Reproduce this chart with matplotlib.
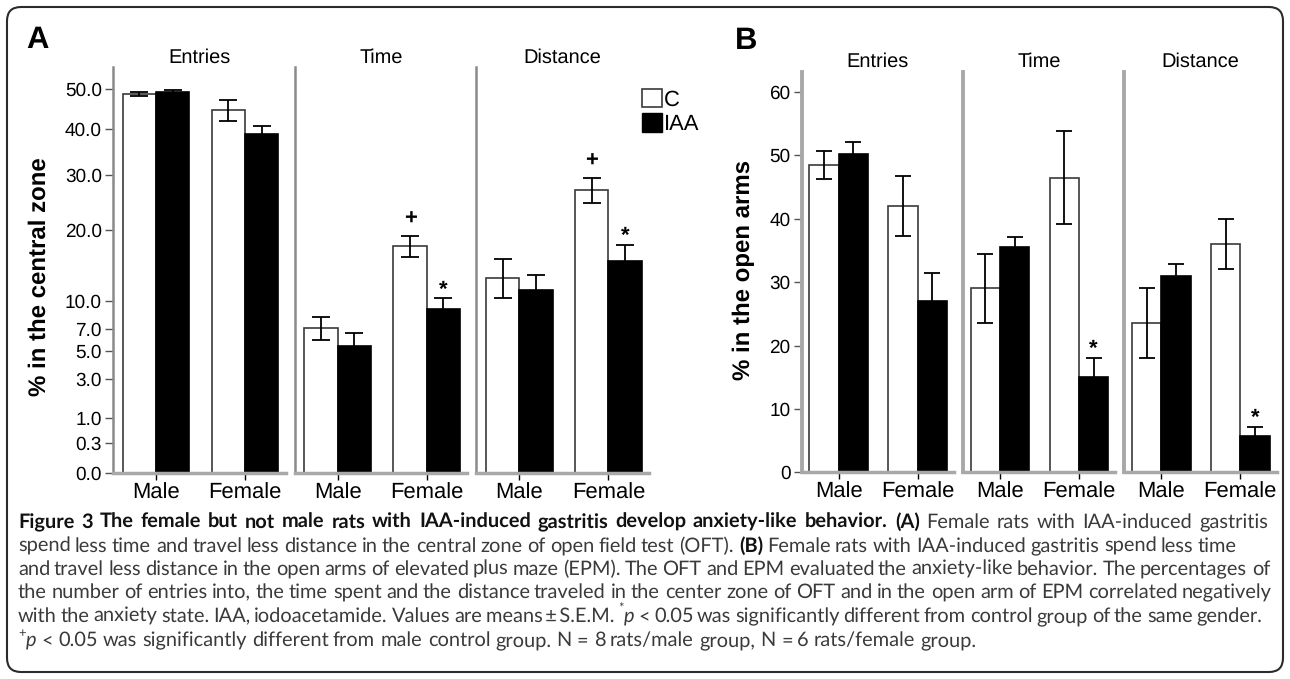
import matplotlib
matplotlib.use('Agg')
import matplotlib.pyplot as plt
from matplotlib.patches import FancyBboxPatch, Patch
from matplotlib.transforms import IdentityTransform
import numpy as np

plt.rcParams['font.family'] = ['Liberation Sans', 'DejaVu Sans']
plt.rcParams['text.hinting'] = 'no_hinting'
plt.rcParams['text.hinting_factor'] = 1

W, H = 1290, 679

measures = ['Entries', 'Time', 'Distance']
groups = ['Male', 'Female']

# A: % in the central zone (open field), square-root axis
a_ctrl = [[48.6, 44.6], [7.1, 17.4], [12.9, 27.1]]
a_ctrl_err = [[0.4, 2.6], [1.1, 1.6], [2.6, 2.4]]
a_iaa = [[49.1, 38.9], [5.45, 9.1], [11.3, 15.2]]
a_iaa_err = [[0.5, 1.8], [1.2, 1.2], [1.95, 2.4]]
a_ticks = [0.0, 0.3, 1.0, 3.0, 5.0, 7.0, 10.0, 20.0, 30.0, 40.0, 50.0]
a_marks = [[], [('C', 1, '+'), ('IAA', 1, '*')], [('C', 1, '+'), ('IAA', 1, '*')]]

# B: % in the open arms (plus maze)
b_ctrl = [[48.5, 42.0], [29.0, 46.5], [23.5, 36.0]]
b_ctrl_err = [[2.2, 4.7], [5.4, 7.4], [5.5, 4.0]]
b_iaa = [[50.2, 27.1], [35.5, 15.1], [31.0, 5.8]]
b_iaa_err = [[1.9, 4.4], [1.7, 2.9], [1.85, 1.35]]
b_ticks = [0, 10, 20, 30, 40, 50, 60]
b_marks = [[], [('IAA', 1, '*')], [('IAA', 1, '*')]]

fig = plt.figure(figsize=(12.9, 6.79), dpi=100)


def add_ax(x0, x1, y0, y1):
    return fig.add_axes([x0 / W, 1 - y1 / H, (x1 - x0) / W, (y1 - y0) / H])


def panel(x_first, pitch, width, y_top, y_bot, xlim, bw, ctrl, ctrl_err, iaa, iaa_err,
          marks, sqrt_axis, ylim, yticks, yfmt, left_col, left_lw, tpad, capsize):
    for i, m in enumerate(measures):
        x0 = x_first + i * pitch
        ax = add_ax(x0, x0 + width, y_top, y_bot)
        if sqrt_axis:
            ax.set_yscale('function', functions=(lambda v: np.sqrt(np.clip(v, 0, None)),
                                                 lambda v: np.square(v)))
        x = np.arange(len(groups))
        ek = dict(ecolor='black', elinewidth=1.3, capthick=1.3)
        ax.bar(x - bw / 2, ctrl[i], bw, yerr=ctrl_err[i], color='white', edgecolor='#3a3a3a',
               linewidth=1.2, capsize=capsize, error_kw=ek)
        ax.bar(x + bw / 2, iaa[i], bw, yerr=iaa_err[i], color='black', edgecolor='black',
               linewidth=1.2, capsize=capsize, error_kw=ek)
        for series, gi, sym in marks[i]:
            if series == 'C':
                xp, top = gi - bw / 2, ctrl[i][gi] + ctrl_err[i][gi]
            else:
                xp, top = gi + bw / 2, iaa[i][gi] + iaa_err[i][gi]
            off = 8 if sym == '+' else 2
            ax.annotate(sym, (xp, top), xytext=(0, off), textcoords='offset points',
                        ha='center', va='baseline', fontsize=16, fontweight='bold')
        ax.set_xlim(*xlim)
        ax.set_ylim(*ylim)
        ax.set_xticks(x)
        ax.set_xticklabels(groups)
        ax.tick_params(axis='x', length=5, width=1, color='black', labelsize=16, pad=2)
        ax.spines['top'].set_visible(False)
        ax.spines['right'].set_visible(False)
        ax.spines['left'].set_color(left_col)
        ax.spines['left'].set_linewidth(left_lw)
        ax.spines['bottom'].set_color('#a8a8a8')
        ax.spines['bottom'].set_linewidth(2.5)
        ax.set_title(m, fontsize=14.5, pad=tpad)
        if i == 0:
            ax.set_yticks(yticks)
            ax.set_yticklabels([yfmt.format(t) for t in yticks])
            ax.tick_params(axis='y', length=6, width=1, color='#555555', labelsize=14, pad=2)
        else:
            ax.tick_params(axis='y', left=False, labelleft=False)
        ax.minorticks_off()


# panel A
panel(113, 181.7, 172.6, 67.3, 472.7, (-0.483, 1.456), 0.374,
      a_ctrl, a_ctrl_err, a_iaa, a_iaa_err, a_marks, True, (0, 55.7),
      a_ticks, '{:.1f}', '#8a8a8a', 1.8, 3.1, 6.5)
# panel B
panel(801.7, 161.3, 152.3, 71.7, 472.3, (-0.468, 1.46), 0.372,
      b_ctrl, b_ctrl_err, b_iaa, b_iaa_err, b_marks, False, (0, 63.2),
      b_ticks, '{:d}', '#a8a8a8', 2.8, 3.4, 6)

fig.text(40 / W, 1 - 277 / H, '% in the central zone', rotation=90, ha='center', va='center',
         fontsize=17, fontweight='bold')
fig.text(744 / W, 1 - 270 / H, '% in the open arms', rotation=90, ha='center', va='center',
         fontsize=17, fontweight='bold')
fig.text(37 / W, 1 - 40 / H, 'A', ha='center', va='center', fontsize=22, fontweight='bold')
fig.text(746 / W, 1 - 41 / H, 'B', ha='center', va='center', fontsize=22, fontweight='bold')

fig.legend(handles=[Patch(facecolor='white', edgecolor='#3a3a3a', linewidth=1.2),
                    Patch(facecolor='black', edgecolor='black')],
           labels=['C', 'IAA'], loc='upper left', bbox_to_anchor=(641.7 / W, 1 - 89 / H),
           frameon=False, borderpad=0, borderaxespad=0, handlelength=0.9, handleheight=0.9,
           handletextpad=0.1, labelspacing=0.12, fontsize=16)

# caption, justified like the journal layout
cap_font = ['Lato', 'DejaVu Sans']
renderer = fig.canvas.get_renderer()


def text_w(s, size, **kw):
    t = fig.text(0, 0, '|' + s + '|', fontsize=size, family=cap_font, **kw)
    t2 = fig.text(0, 0, '||', fontsize=size, family=cap_font, **kw)
    w = t.get_window_extent(renderer).width - t2.get_window_extent(renderer).width
    t.remove()
    t2.remove()
    return w


N = {}
B = {'weight': 'bold'}
I = {'style': 'italic'}
S = {'sup': True}
cap_lines = [
    [('Figure 3 The female but not male rats with IAA-induced gastritis develop anxiety-like behavior. (A)', B),
     (' Female rats with IAA-induced gastritis', N)],
    [('spend less time and travel less distance in the central zone of open field test (OFT). ', N),
     ('(B)', B), (' Female rats with IAA-induced gastritis spend less time', N)],
    [('and travel less distance in the open arms of elevated plus maze (EPM). The OFT and EPM evaluated the anxiety-like behavior. The percentages of', N)],
    [('the number of entries into, the time spent and the distance traveled in the center zone of OFT and in the open arm of EPM correlated negatively', N)],
    [('with the anxiety state. IAA, iodoacetamide. Values are means\u2009\u00b1\u2009S.E.M. ', N), ('*', S), ('p', I),
     (' < 0.05 was significantly different from control group of the same gender.', N)],
    [('+', S), ('p', I),
     (' < 0.05 was significantly different from male control group. N = 8 rats/male group, N = 6 rats/female group.', N)],
]
cap_base = [528, 551.5, 575, 598.5, 622, 645.5]
cap_right = [1268, 1237, 1270, 1272, 1262, None]
cap_left = 18

size = 10 * (cap_right[3] - cap_left) / text_w(cap_lines[3][0][0], 10)
space_w = text_w(' ', size)


def style_kw(st):
    kw = {}
    if st.get('weight'):
        kw['weight'] = 'bold'
    if st.get('style'):
        kw['style'] = 'italic'
    return kw


for line, yb, xr in zip(cap_lines, cap_base, cap_right):
    tokens = []
    pending = False
    for s, st in line:
        for k, p in enumerate(s.split(' ')):
            if k > 0:
                pending = True
            if p:
                tokens.append((p, st, pending and len(tokens) > 0))
                pending = False
    widths = []
    for p, st, sp in tokens:
        sz = size * 0.65 if st.get('sup') else size
        widths.append(text_w(p, sz, **style_kw(st)))
    n_sp = sum(1 for t in tokens if t[2])
    gap = space_w if xr is None else (xr - cap_left - sum(widths)) / n_sp
    xp = cap_left
    for (p, st, sp), w in zip(tokens, widths):
        if sp:
            xp += gap
        sz = size
        dy = 0
        if st.get('sup'):
            sz = size * 0.65
            dy = size * 1.389 * 0.45
        col = '#111111' if st.get('weight') else '#3a3a3a'
        fig.text(round(xp) / W, 1 - round(yb - dy) / H, p, fontsize=sz, family=cap_font,
                 va='baseline', color=col, **style_kw(st))
        xp += w

fig.patches.append(FancyBboxPatch((7, 7), 1276, 665, boxstyle='round,pad=0,rounding_size=14',
                                  transform=IdentityTransform(), fill=False,
                                  edgecolor='#2b2b2b', linewidth=1.5))

fig.savefig('out.png', dpi=100)
